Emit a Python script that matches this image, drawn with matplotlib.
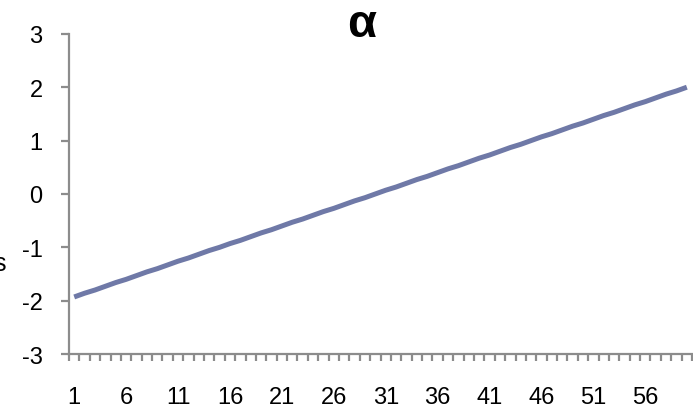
import numpy as np
import matplotlib.pyplot as plt
from matplotlib.ticker import FixedLocator

plt.rcParams['font.family'] = ['Liberation Sans', 'DejaVu Sans']
plt.rcParams['axes.unicode_minus'] = False

# alpha estimate per step
steps = list(range(1, 61))
alpha = [-1.93, -1.86, -1.80, -1.73, -1.66, -1.60, -1.53, -1.46, -1.40, -1.33,
         -1.26, -1.20, -1.13, -1.06, -1.00, -0.93, -0.87, -0.80, -0.73, -0.67,
         -0.60, -0.53, -0.47, -0.40, -0.33, -0.27, -0.20, -0.13, -0.07, 0.00,
         0.07, 0.13, 0.20, 0.27, 0.33, 0.40, 0.47, 0.53, 0.60, 0.67,
         0.73, 0.80, 0.87, 0.93, 1.00, 1.07, 1.13, 1.20, 1.27, 1.33,
         1.40, 1.47, 1.53, 1.60, 1.67, 1.73, 1.80, 1.87, 1.93, 2.00]
x_labels = [str(s) for s in steps[::5]]
y_ticks = [-3, -2, -1, 0, 1, 2, 3]

axis_grey = '#8c8c8c'

fig = plt.figure(figsize=(6.93, 4.10), dpi=100)
ax = fig.add_axes([0.0996, 0.134, 0.899, 0.781])

ax.plot(steps, alpha, color='#6f79a7', lw=3.6, solid_capstyle='butt')

ax.set_xlim(0.5, 60.5)
ax.set_ylim(-3, 3)
ax.set_yticks(y_ticks)
ax.set_xticks(steps[::5])
ax.set_xticklabels(x_labels)
ax.xaxis.set_minor_locator(FixedLocator(np.arange(0.5, 61, 1.0)))

for side in ['top', 'right']:
    ax.spines[side].set_visible(False)
for side in ['left', 'bottom']:
    ax.spines[side].set_color(axis_grey)
    ax.spines[side].set_linewidth(1.6)

ax.tick_params(axis='y', length=6, width=1.6, color=axis_grey, pad=13,
               labelsize=17)
ax.tick_params(axis='x', which='major', length=0, pad=23, labelsize=17)
ax.tick_params(axis='x', which='minor', length=5, width=1.6, color=axis_grey)

fig.text(0.522, 0.94, 'α', ha='center', va='center', fontsize=34,
         fontweight='bold')
fig.text(0.008, 0.355, 's', ha='right', va='center', fontsize=18)

fig.savefig('out.png', dpi=100)
